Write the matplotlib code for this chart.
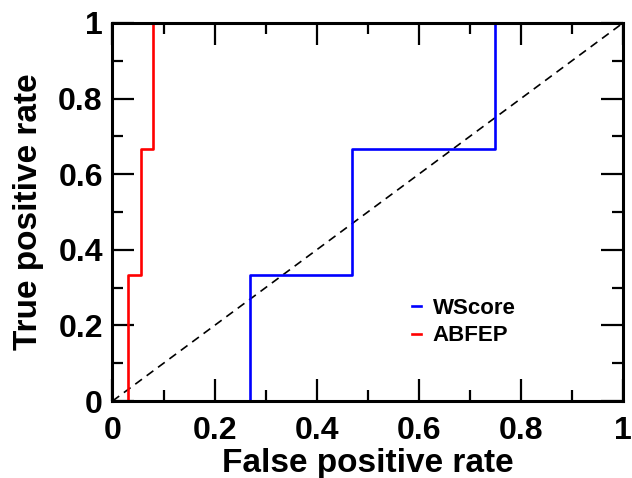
import matplotlib
matplotlib.use("Agg")
import matplotlib.pyplot as plt
from matplotlib.ticker import MultipleLocator, FixedLocator

# Data (ROC step curves)
wscore_fpr = [0.0, 0.27, 0.27, 0.47, 0.47, 0.75, 0.75, 1.0]
wscore_tpr = [0.0, 0.0, 0.333, 0.333, 0.667, 0.667, 1.0, 1.0]
abfep_fpr = [0.0, 0.03, 0.03, 0.055, 0.055, 0.08, 0.08, 1.0]
abfep_tpr = [0.0, 0.0, 0.333, 0.333, 0.667, 0.667, 1.0, 1.0]
diag = [0.0, 1.0]
tick_vals = [0, 0.2, 0.4, 0.6, 0.8, 1.0]
tick_labels = ["0", "0.2", "0.4", "0.6", "0.8", "1"]

plt.rcParams['font.family'] = ['Liberation Sans', 'DejaVu Sans']
plt.rcParams['font.weight'] = 'bold'

fig = plt.figure(figsize=(6.32, 4.78), dpi=100)
ax = fig.add_axes([0.178, 0.161, 0.8078, 0.791])

ax.plot(diag, diag, color='black', lw=1.2, ls=(0, (5, 3.5)))
ax.plot(wscore_fpr, wscore_tpr, color='#0000ff', lw=1.9, label='WScore', clip_on=False)
ax.plot(abfep_fpr, abfep_tpr, color='#ff0000', lw=1.9, label='ABFEP', clip_on=False)

ax.set_xlim(0, 1)
ax.set_ylim(0, 1)
ax.xaxis.set_major_locator(FixedLocator(tick_vals))
ax.yaxis.set_major_locator(FixedLocator(tick_vals))
ax.set_xticklabels(tick_labels)
ax.set_yticklabels(tick_labels)
ax.xaxis.set_minor_locator(MultipleLocator(0.1))
ax.yaxis.set_minor_locator(MultipleLocator(0.1))
ax.tick_params(which='both', direction='in', top=True, right=True, width=1.6, color='black')
ax.tick_params(which='major', length=16, labelsize=23)
ax.tick_params(which='minor', length=8)
ax.tick_params(axis='x', which='major', pad=10.5)
ax.tick_params(axis='y', which='major', pad=7)
for lab in ax.get_xticklabels() + ax.get_yticklabels():
    lab.set_fontweight('bold')
for s in ax.spines.values():
    s.set_linewidth(2.2)

ax.set_xlabel('False positive rate', fontsize=24, fontweight='bold', labelpad=2.0)
ax.set_ylabel('True positive rate', fontsize=24, fontweight='bold', labelpad=10.5)

leg = ax.legend(loc='upper left', bbox_to_anchor=(0.586, 0.273), frameon=False,
                fontsize=16, handlelength=0.4, handletextpad=0.55, labelspacing=0.3,
                borderpad=0, borderaxespad=0)
for t in leg.get_texts():
    t.set_fontweight('bold')

fig.savefig('out.png', dpi=100)
